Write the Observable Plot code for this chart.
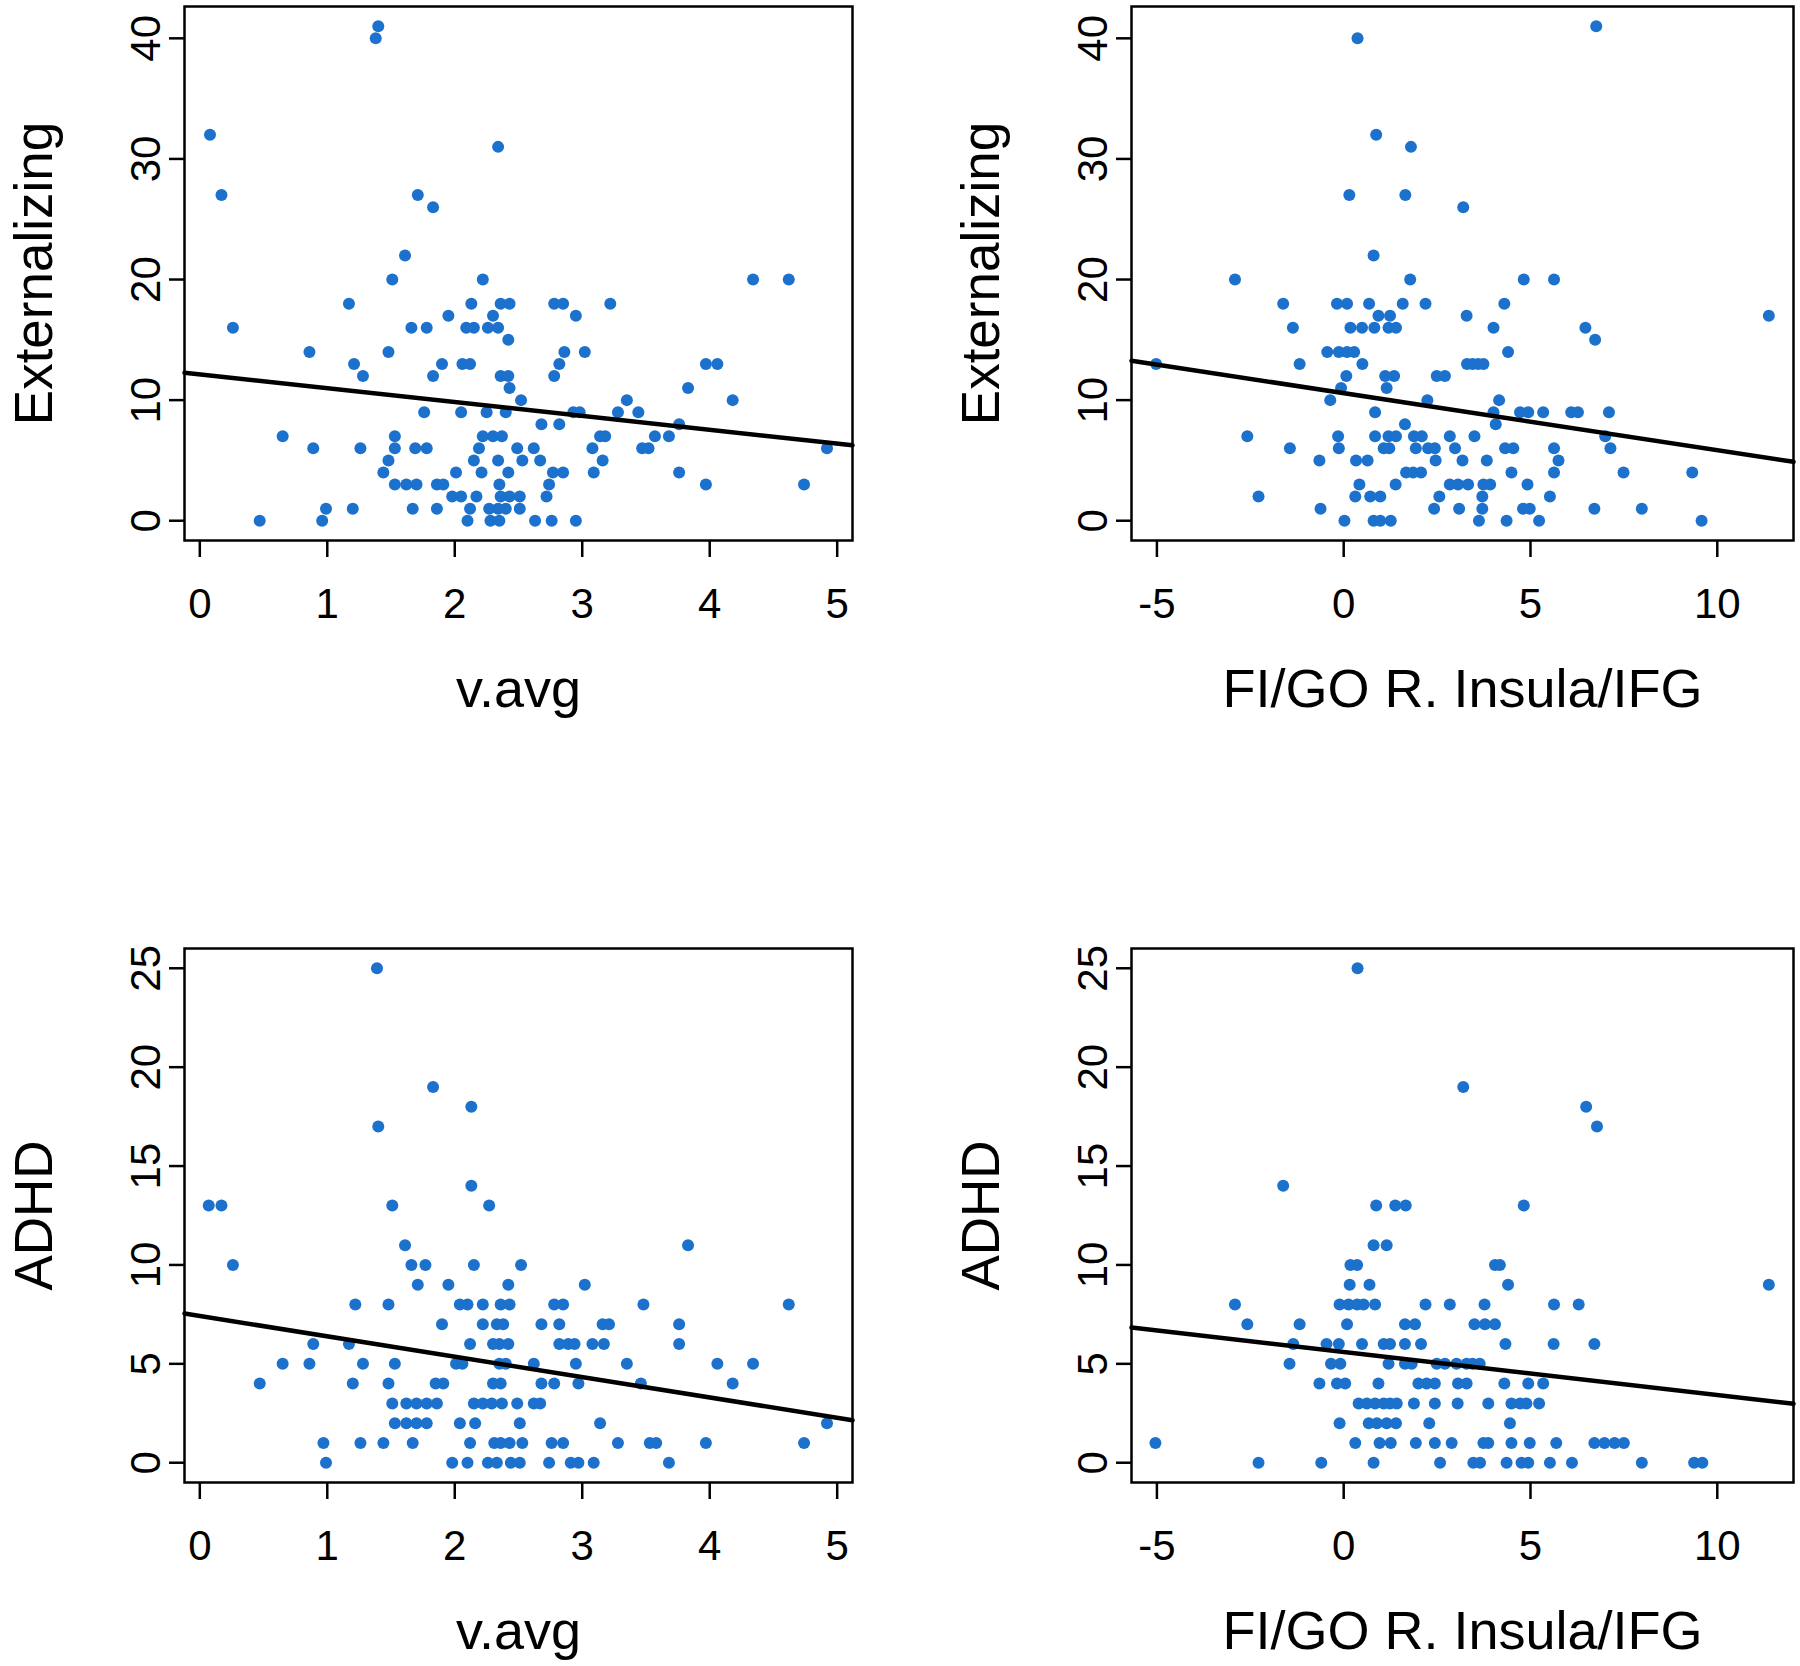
<!DOCTYPE html>
<html><head><meta charset="utf-8">
<script src="https://cdn.jsdelivr.net/npm/d3@7"></script>
<script src="https://cdn.jsdelivr.net/npm/@observablehq/plot@0.6"></script>
<style>
body{margin:0;background:#fff;}
#fig{position:relative;width:1800px;height:1666px;background:#fff;overflow:hidden;}
#fig svg{position:absolute;}
</style></head><body><div id="fig"></div>
<script>
// ---- data: [x, y] pairs ----
const extVsVavg = [[1.40,41],[1.38,40],[0.08,32],[2.34,31],[0.17,27],[1.71,27],[1.83,26],[1.61,22],[1.51,20],[2.22,20],[1.17,18],[2.13,18],[2.36,18],[2.43,18],[1.95,17],[2.30,17],[0.26,16],[1.66,16],[1.78,16],[2.09,16],[2.15,16],[2.26,16],[2.34,16],[2.42,15],[0.86,14],[1.48,14],[1.21,13],[1.90,13],[2.06,13],[2.12,13],[1.28,12],[1.83,12],[2.36,12],[2.42,12],[2.43,11],[2.52,10],[1.76,9],[2.05,9],[2.25,9],[2.40,9],[0.65,7],[1.53,7],[2.22,7],[2.30,7],[2.37,7],[0.89,6],[1.26,6],[1.53,6],[1.69,6],[1.78,6],[2.19,6],[2.49,6],[1.48,5],[2.15,5],[2.34,5],[2.53,5],[1.44,4],[2.01,4],[2.21,4],[2.42,4],[1.53,3],[1.62,3],[1.70,3],[1.86,3],[1.91,3],[2.35,3],[1.98,2],[2.05,2],[2.17,2],[2.36,2],[2.43,2],[2.51,2],[0.99,1],[1.20,1],[1.67,1],[1.86,1],[2.12,1],[2.27,1],[2.34,1],[2.40,1],[2.51,1],[0.47,0],[0.96,0],[2.10,0],[2.28,0],[2.35,0],
[4.34,20],[4.62,20],[2.78,18],[2.85,18],[3.22,18],[2.95,17],[2.86,14],[3.02,14],[2.82,13],[3.97,13],[4.06,13],[2.78,12],[3.83,11],[3.35,10],[4.18,10],[2.93,9],[2.98,9],[3.28,9],[3.44,9],[2.68,8],[2.82,8],[3.76,8],[3.14,7],[3.18,7],[3.57,7],[3.68,7],[2.62,6],[3.08,6],[3.47,6],[3.52,6],[4.92,6],[2.67,5],[3.16,5],[2.77,4],[2.85,4],[3.09,4],[3.76,4],[2.74,3],[3.97,3],[4.74,3],[2.72,2],[2.63,0],[2.76,0],[2.95,0]];

const extVsFigo = [[0.37,40],[0.87,32],[1.80,31],[0.15,27],[1.65,27],[3.20,26],[0.80,22],[-2.91,20],[1.78,20],[-1.62,18],[-0.18,18],[0.09,18],[0.68,18],[1.58,18],[2.19,18],[0.93,17],[1.24,17],[3.29,17],[-1.36,16],[0.18,16],[0.49,16],[0.82,16],[1.20,16],[1.40,16],[-0.44,14],[-0.13,14],[0.09,14],[0.28,14],[-5.02,13],[-1.18,13],[0.50,13],[3.30,13],[0.07,12],[1.11,12],[1.35,12],[2.49,12],[2.71,12],[-0.07,11],[1.15,11],[-0.36,10],[2.24,10],[0.84,9],[1.64,8],[-2.58,7],[-0.15,7],[0.84,7],[1.20,7],[1.40,7],[1.88,7],[2.09,7],[2.84,7],[-1.44,6],[-0.13,6],[1.07,6],[1.22,6],[1.93,6],[2.26,6],[2.44,6],[2.98,6],[-0.65,5],[0.33,5],[0.64,5],[2.46,5],[3.18,5],[1.67,4],[1.86,4],[2.07,4],[0.42,3],[1.39,3],[2.84,3],[3.06,3],[3.33,3],[-2.28,2],[0.31,2],[0.71,2],[0.98,2],[2.56,2],[-0.62,1],[2.42,1],[3.09,1],[0.02,0],[0.80,0],[0.98,0],[1.26,0],
[6.76,41],[4.82,20],[5.63,20],[4.30,18],[4.01,16],[6.47,16],[6.73,15],[4.40,14],[3.45,13],[3.60,13],[3.74,13],[4.16,10],[4.01,9],[4.72,9],[4.94,9],[5.34,9],[6.09,9],[6.27,9],[7.10,9],[4.07,8],[7.00,7],[3.50,7],[4.32,6],[4.54,6],[5.63,6],[7.14,6],[3.83,5],[5.75,5],[4.49,4],[5.63,4],[7.49,4],[9.33,4],[3.74,3],[3.92,3],[4.92,3],[3.71,2],[5.52,2],[3.71,1],[4.80,1],[4.98,1],[6.71,1],[7.98,1],[3.62,0],[4.36,0],[5.23,0],[9.58,0],[11.38,17]];

const adhdVsVavg = [[1.39,25],[1.83,19],[2.13,18],[1.40,17],[2.13,14],[0.07,13],[0.17,13],[1.51,13],[2.27,13],[1.61,11],[0.26,10],[1.66,10],[1.77,10],[2.15,10],[2.52,10],[1.71,9],[1.95,9],[2.42,9],[1.22,8],[1.48,8],[2.04,8],[2.10,8],[2.22,8],[2.36,8],[2.43,8],[1.90,7],[2.22,7],[2.33,7],[2.38,7],[0.89,6],[1.17,6],[2.12,6],[2.30,6],[2.35,6],[2.42,6],[0.65,5],[0.86,5],[1.28,5],[1.53,5],[2.01,5],[2.06,5],[2.35,5],[2.40,5],[0.47,4],[1.20,4],[1.48,4],[1.85,4],[1.91,4],[2.30,4],[2.36,4],[1.51,3],[1.62,3],[1.70,3],[1.78,3],[1.86,3],[2.15,3],[2.22,3],[2.29,3],[2.37,3],[2.49,3],[1.53,2],[1.62,2],[1.70,2],[1.78,2],[2.04,2],[2.16,2],[2.51,2],[0.97,1],[1.26,1],[1.44,1],[1.67,1],[2.12,1],[2.31,1],[2.36,1],[2.43,1],[2.53,1],[0.99,0],[1.98,0],[2.10,0],[2.26,0],[2.33,0],[2.44,0],[2.51,0],
[3.83,11],[3.02,9],[2.78,8],[2.85,8],[3.48,8],[4.62,8],[2.68,7],[2.82,7],[3.16,7],[3.21,7],[3.76,7],[2.82,6],[2.89,6],[2.94,6],[3.08,6],[3.17,6],[3.76,6],[2.62,5],[2.95,5],[3.35,5],[4.06,5],[4.34,5],[2.68,4],[2.78,4],[2.97,4],[3.46,4],[4.18,4],[2.62,3],[2.67,3],[3.14,2],[4.92,2],[2.76,1],[2.85,1],[3.28,1],[3.53,1],[3.58,1],[3.97,1],[4.74,1],[2.74,0],[2.91,0],[2.97,0],[3.09,0],[3.68,0]];

const adhdVsFigo = [[0.37,25],[3.20,19],[-1.62,14],[0.87,13],[1.38,13],[1.66,13],[0.80,11],[1.15,11],[0.18,10],[0.36,10],[0.16,9],[0.69,9],[-2.91,8],[-0.11,8],[0.13,8],[0.36,8],[0.53,8],[0.84,8],[2.19,8],[2.84,8],[-2.58,7],[-1.18,7],[0.09,7],[1.64,7],[1.91,7],[-1.35,6],[-0.46,6],[-0.13,6],[0.49,6],[1.07,6],[1.24,6],[1.64,6],[2.07,6],[-1.45,5],[-0.34,5],[-0.09,5],[1.20,5],[1.64,5],[1.82,5],[2.49,5],[2.71,5],[3.02,5],[3.29,5],[-0.65,4],[-0.18,4],[0.04,4],[0.93,4],[2.00,4],[2.22,4],[2.44,4],[3.06,4],[3.29,4],[0.40,3],[0.62,3],[0.84,3],[1.07,3],[1.24,3],[1.42,3],[1.88,3],[2.44,3],[3.05,3],[-0.11,2],[0.67,2],[0.89,2],[1.15,2],[1.40,2],[2.29,2],[-5.04,1],[0.31,1],[0.96,1],[1.26,1],[1.93,1],[2.44,1],[2.89,1],[-2.28,0],[-0.60,0],[0.80,0],[2.58,0],
[6.49,18],[6.78,17],[4.82,13],[4.05,10],[4.18,10],[4.40,9],[11.38,9],[3.77,8],[5.63,8],[6.29,8],[3.50,7],[3.78,7],[4.05,7],[4.33,6],[5.62,6],[6.71,6],[3.45,5],[3.64,5],[4.30,4],[4.94,4],[5.34,4],[3.87,3],[4.49,3],[4.72,3],[4.89,3],[5.23,3],[4.45,2],[3.74,1],[3.87,1],[4.49,1],[4.98,1],[5.69,1],[6.71,1],[6.98,1],[7.25,1],[7.50,1],[3.47,0],[3.65,0],[4.36,0],[4.76,0],[4.94,0],[5.52,0],[6.11,0],[7.98,0],[9.38,0],[9.60,0]];

// fitted lines: [intercept, slope]
const fitExtVavg = [12.14, -1.15];
const fitExtFigo = [10.58, -0.473];
const fitAdhdVavg = [7.42, -1.03];
const fitAdhdFigo = [5.60, -0.2176];

// ticks and labels
const vavgTicks = [0, 1, 2, 3, 4, 5];
const figoTicks = [-5, 0, 5, 10];
const extTicks = [0, 10, 20, 30, 40];
const adhdTicks = [0, 5, 10, 15, 20, 25];
const xLabels = ["v.avg", "FI/GO R. Insula/IFG"];
const yLabels = ["Externalizing", "ADHD"];

const FONT = '"Liberation Sans", Arial, Helvetica, sans-serif';
const BLUE = "#1b71cc";
const fmt = d => String(d);

function panel(o) {
  const [x0, x1] = o.xDomain;
  const fitLine = [x0, x1].map(x => ({x, y: o.fit[0] + o.fit[1] * x}));
  const svg = Plot.plot({
    width: 900, height: 833,
    marginLeft: o.ml, marginRight: o.mr, marginTop: o.mt, marginBottom: o.mb,
    style: {fontFamily: FONT, background: "transparent", color: "#000", overflow: "visible"},
    x: {domain: o.xDomain, axis: null},
    y: {domain: o.yDomain, axis: null},
    marks: [
      Plot.dot(o.data, {x: d => d[0], y: d => d[1], r: 6, fill: BLUE, stroke: "none"}),
      Plot.line(fitLine, {x: "x", y: "y", stroke: "#000", strokeWidth: 4.5}),
      Plot.frame({stroke: "#000", strokeWidth: 2.5}),
      Plot.axisX(o.xTicks, {tickSize: 17, tickPadding: 31, fontSize: 42, strokeWidth: 2.5, label: null, tickFormat: fmt}),
      Plot.axisY(o.yTicks, {tickSize: 15, tickPadding: 10, tickRotate: -90, fontSize: 42, strokeWidth: 2.5, label: null, tickFormat: fmt}),
      Plot.text([o.xLabel], {text: d => d, frameAnchor: "bottom", dy: 166, textAnchor: "middle", lineAnchor: "bottom", fontSize: 54}),
      Plot.text([o.yLabel], {text: d => d, frameAnchor: "left", dx: -133, rotate: -90, textAnchor: "middle", lineAnchor: "bottom", fontSize: 53})
    ]
  });
  svg.style.left = o.left + "px";
  svg.style.top = o.top + "px";
  document.getElementById("fig").appendChild(svg);
}

const vavgDomain = [-0.12, 5.12];
const figoDomain = [-5.68, 12.04];
const extDomain = [-1.64, 42.64];
const adhdDomain = [-1, 26];

panel({data: extVsVavg, xDomain: vavgDomain, yDomain: extDomain, xTicks: vavgTicks, yTicks: extTicks,
  xLabel: xLabels[0], yLabel: yLabels[0], fit: fitExtVavg, left: 0, top: 0, ml: 184, mr: 48, mt: 6, mb: 293});
panel({data: extVsFigo, xDomain: figoDomain, yDomain: extDomain, xTicks: figoTicks, yTicks: extTicks,
  xLabel: xLabels[1], yLabel: yLabels[0], fit: fitExtFigo, left: 900, top: 0, ml: 231, mr: 7, mt: 6, mb: 293});
panel({data: adhdVsVavg, xDomain: vavgDomain, yDomain: adhdDomain, xTicks: vavgTicks, yTicks: adhdTicks,
  xLabel: xLabels[0], yLabel: yLabels[1], fit: fitAdhdVavg, left: 0, top: 833, ml: 184, mr: 48, mt: 115, mb: 184});
panel({data: adhdVsFigo, xDomain: figoDomain, yDomain: adhdDomain, xTicks: figoTicks, yTicks: adhdTicks,
  xLabel: xLabels[1], yLabel: yLabels[1], fit: fitAdhdFigo, left: 900, top: 833, ml: 231, mr: 7, mt: 115, mb: 184});
</script></body></html>
